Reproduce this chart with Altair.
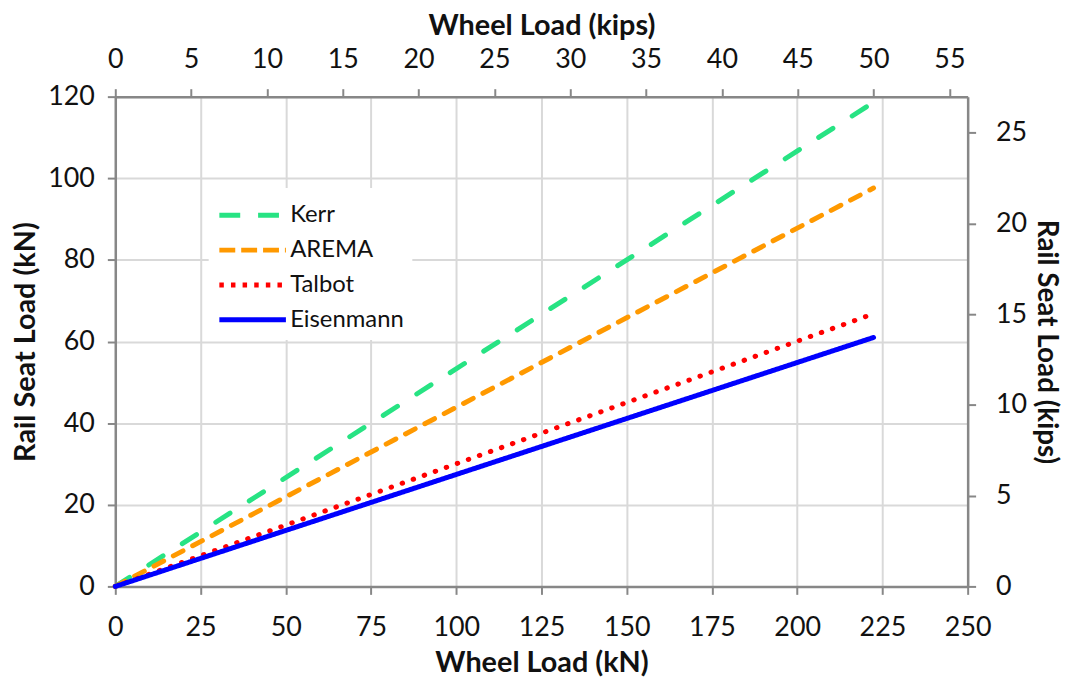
import altair as alt
import pandas as pd

# Data (kN)
series = ["Kerr", "AREMA", "Talbot", "Eisenmann"]
wheel_kN = [0, 222.4]
kerr_kN = [0, 118.6]
arema_kN = [0, 97.6]
talbot_kN = [0, 66.8]
eisenmann_kN = [0, 61.0]
colors = ["#27E383", "#FF9900", "#FF0000", "#0000FF"]
# dash patterns for round-capped plot lines and for butt-capped legend symbols
line_dashes = [[17, 23], [11, 11], [0.5, 11.3], [1, 0]]
legend_dashes = [[21, 18], [16, 6], [4.5, 7.2], [1, 0]]

kN_per_kip = 4.448
x_max_kN = 250
y_max_kN = 120
top_ticks_kips = [0, 5, 10, 15, 20, 25, 30, 35, 40, 45, 50, 55]
right_ticks_kips = [0, 5, 10, 15, 20, 25]

rows = []
for name, vals in zip(series, [kerr_kN, arema_kN, talbot_kN, eisenmann_kN]):
    for w, v in zip(wheel_kN, vals):
        rows.append({"series": name, "wheel": w, "rail": v, "order": series.index(name)})
df = pd.DataFrame(rows)

FONT = "Lato"
GREY = "#878787"
TXT = "#111111"

x_enc = alt.X("wheel:Q", scale=alt.Scale(domain=[0, x_max_kN], nice=False),
              axis=alt.Axis(title="Wheel Load (kN)", values=list(range(0, 251, 25)),
                            orient="bottom", grid=True, labelPadding=20, titlePadding=9))
y_enc = alt.Y("rail:Q", scale=alt.Scale(domain=[0, y_max_kN], nice=False),
              axis=alt.Axis(title="Rail Seat Load (kN)", values=list(range(0, 121, 20)),
                            orient="left", grid=True, labelPadding=13, titlePadding=7))

legend_def = alt.Legend(title=None, orient="none", legendX=94, legendY=92,
                        fillColor="white", padding=8, symbolType="M-1,0H3",
                        symbolSize=1122, symbolStrokeWidth=5,
                        labelFontSize=24, labelFont=FONT, labelColor=TXT,
                        rowPadding=3, labelOffset=35)

lines = alt.Chart(df).mark_line(strokeWidth=5, strokeCap="round").encode(
    x=x_enc, y=y_enc,
    color=alt.Color("series:N", scale=alt.Scale(domain=series, range=colors), legend=None),
    strokeDash=alt.StrokeDash("series:N", scale=alt.Scale(domain=series, range=line_dashes),
                              legend=None),
    order=alt.Order("order:Q"),
    detail="series:N",
)

legend_src = alt.Chart(df).transform_filter("false").mark_line(strokeWidth=5).encode(
    x=x_enc, y=y_enc,
    color=alt.Color("series:N", scale=alt.Scale(domain=series, range=colors), legend=legend_def),
    strokeDash=alt.StrokeDash("series:N", scale=alt.Scale(domain=series, range=legend_dashes),
                              legend=legend_def),
)

main = alt.layer(legend_src, lines).resolve_scale(strokeDash="independent", color="independent")

dummy = pd.DataFrame({"kips_x": [0.0], "kips_y": [0.0]})
second = alt.Chart(dummy).mark_point(opacity=0).encode(
    x=alt.X("kips_x:Q", scale=alt.Scale(domain=[0, x_max_kN / kN_per_kip], nice=False),
            axis=alt.Axis(title="Wheel Load (kips)", orient="top", values=top_ticks_kips,
                          grid=False, labelPadding=15, titlePadding=6)),
    y=alt.Y("kips_y:Q", scale=alt.Scale(domain=[0, y_max_kN / kN_per_kip], nice=False),
            axis=alt.Axis(title="Rail Seat Load (kips)", orient="right", values=right_ticks_kips,
                          grid=False, labelPadding=20, titlePadding=5, titleFontSize=28)),
)

chart = alt.layer(main, second).resolve_scale(x="independent", y="independent").properties(
    width=858, height=493,
    autosize=alt.AutoSizeParams(type="none"),
    padding={"left": 108, "top": 87, "right": 100, "bottom": 94},
).configure_view(stroke=None).configure_axis(
    labelFont=FONT, labelFontSize=27, labelColor=TXT,
    titleFont=FONT, titleFontSize=29, titleFontWeight="bold", titleColor=TXT,
    domainColor=GREY, domainWidth=2.5, tickColor=GREY, tickWidth=2, tickSize=8,
    gridColor="#D9D9D9", gridWidth=2, labelPadding=8, titlePadding=10,
    labelFlush=False,
).configure_legend(strokeColor=None)

chart.save("out.html", embed_options={"renderer": "svg", "actions": False})
